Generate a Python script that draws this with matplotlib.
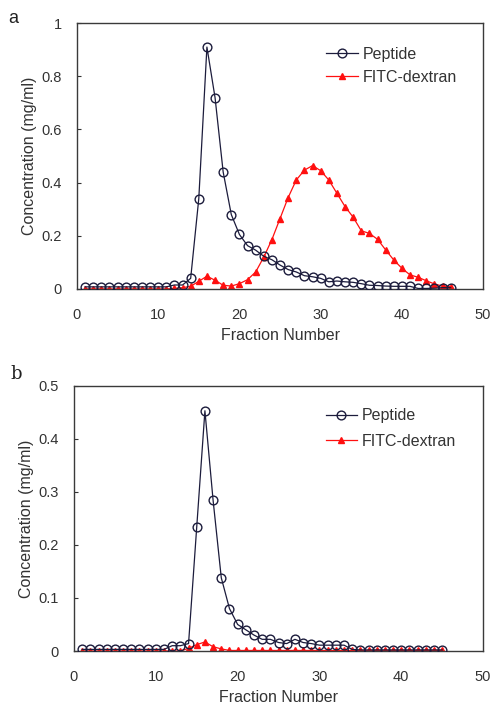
import numpy as np
import matplotlib.pyplot as plt

plt.rcParams['font.family'] = ['Liberation Sans', 'DejaVu Sans']

# panel a
frac_a = list(range(1, 47))
peptide_a = [0.008, 0.008, 0.008, 0.008, 0.008, 0.008, 0.008, 0.008, 0.008, 0.008,
             0.008, 0.015, 0.015, 0.04, 0.34, 0.91, 0.72, 0.44, 0.28, 0.205,
             0.163, 0.146, 0.123, 0.11, 0.09, 0.073, 0.064, 0.05, 0.046, 0.04,
             0.027, 0.03, 0.027, 0.025, 0.02, 0.014, 0.013, 0.011, 0.01, 0.01,
             0.01, 0.002, 0.002, 0.003, 0.005, 0.005]
fitc_a = [0.0, 0.0, 0.0, 0.0, 0.0, 0.0, 0.0, 0.0, 0.0, 0.0,
          0.0, 0.002, 0.005, 0.01, 0.029, 0.048, 0.033, 0.014, 0.011, 0.02,
          0.035, 0.064, 0.12, 0.186, 0.265, 0.344, 0.41, 0.447, 0.464, 0.445,
          0.41, 0.36, 0.31, 0.27, 0.219, 0.209, 0.187, 0.147, 0.109, 0.078,
          0.053, 0.044, 0.031, 0.019, 0.011, 0.009]

# panel b
frac_b = list(range(1, 46))
peptide_b = [0.003, 0.003, 0.003, 0.003, 0.003, 0.003, 0.003, 0.003, 0.003, 0.003,
             0.003, 0.01, 0.01, 0.014, 0.234, 0.453, 0.284, 0.138, 0.08, 0.05,
             0.04, 0.03, 0.022, 0.022, 0.016, 0.014, 0.022, 0.016, 0.014, 0.011,
             0.011, 0.011, 0.011, 0.003, 0.002, 0.002, 0.002, 0.002, 0.002, 0.002,
             0.002, 0.002, 0.002, 0.002, 0.002]
fitc_b = [0.0, 0.0, 0.0, 0.0, 0.0, 0.0, 0.0, 0.0, 0.0, 0.0,
          0.0, 0.0, 0.0, 0.005, 0.012, 0.017, 0.008, 0.004, 0.001, 0.001,
          0.001, 0.001, 0.001, 0.001, 0.001, 0.001, 0.001, 0.001, 0.001, 0.001,
          0.001, 0.001, 0.001, 0.001, 0.001, 0.001, 0.001, 0.001, 0.001, 0.001,
          0.001, 0.001, 0.001, 0.001, 0.001]

txt = '#333333'
navy = '#1c1c3c'

fig = plt.figure(figsize=(4.9, 7.09), dpi=100)
ax_a = fig.add_axes([0.157, 0.5924, 0.829, 0.375])
ax_b = fig.add_axes([0.151, 0.0818, 0.835, 0.374])


def draw(ax, x, pep, fitc, ymax, yticks, ylabels, legend_y, spacing):
    ax.plot(x, pep, color=navy, lw=0.9, marker='o', ms=6.3, mfc='none',
            mec=navy, mew=1.0, label='Peptide', zorder=3)
    ax.plot(x, fitc, color='#ff1010', lw=0.9, marker='^', ms=4.5,
            mfc='#ff1010', mec='#ff1010', label='FITC-dextran', zorder=2)
    ax.set_xlim(0, 50)
    ax.set_ylim(0, ymax)
    ax.set_xticks([0, 10, 20, 30, 40, 50])
    ax.set_yticks(yticks)
    ax.set_yticklabels(ylabels)
    ax.tick_params(axis='y', direction='in', length=3, color=txt,
                   labelsize=10.5, labelcolor=txt, pad=11)
    ax.tick_params(axis='x', length=0, labelsize=10.5, labelcolor=txt, pad=14)
    for s in ax.spines.values():
        s.set_color('#3a3a3a')
        s.set_linewidth(1.0)
    ax.set_xlabel('Fraction Number', fontsize=11.5, color=txt, labelpad=4)
    ax.set_ylabel('Concentration (mg/ml)', fontsize=11.5, color=txt, labelpad=3)
    ax.legend(loc='upper right', frameon=False, fontsize=11.5,
              handlelength=2.0, handletextpad=0.3, labelspacing=spacing,
              bbox_to_anchor=(0.97, legend_y), labelcolor=txt)


draw(ax_a, frac_a, peptide_a, fitc_a, 1.0,
     [0, 0.2, 0.4, 0.6, 0.8, 1.0], ['0', '0.2', '0.4', '0.6', '0.8', '1'],
     0.965, 0.5)
draw(ax_b, frac_b, peptide_b, fitc_b, 0.5,
     [0, 0.1, 0.2, 0.3, 0.4, 0.5], ['0', '0.1', '0.2', '0.3', '0.4', '0.5'],
     0.97, 0.65)

fig.text(0.016, 0.968, 'a', fontsize=13, color='#222222')
fig.text(0.022, 0.466, 'b', fontsize=13, color='#222222', family='DejaVu Serif')

fig.savefig('out.png', dpi=100)
